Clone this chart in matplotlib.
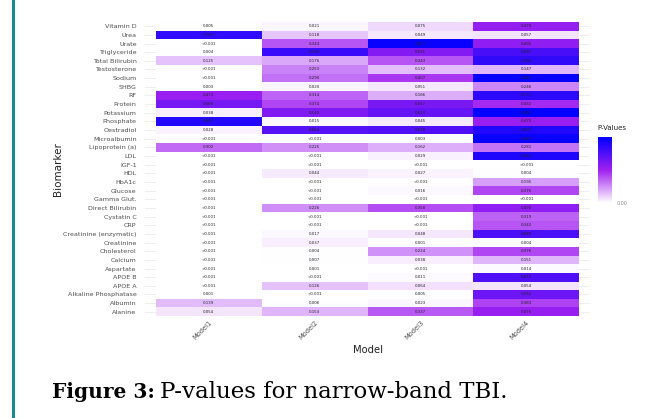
import numpy as np
import matplotlib.pyplot as plt
from matplotlib.colors import LinearSegmentedColormap, Normalize
from matplotlib.colorbar import ColorbarBase

biomarkers = ['Vitamin D', 'Urea', 'Urate', 'Triglyceride', 'Total Bilirubin',
              'Testosterone', 'Sodium', 'SHBG', 'RF', 'Protein', 'Potassium',
              'Phosphate', 'Oestradiol', 'Microalbumin', 'Lipoprotein (a)', 'LDL',
              'IGF-1', 'HDL', 'HbA1c', 'Glucose', 'Gamma Glut.', 'Direct Bilirubin',
              'Cystatin C', 'CRP', 'Creatinine (enzymatic)', 'Creatinine',
              'Cholesterol', 'Calcium', 'Aspartate', 'APOE B', 'APOE A',
              'Alkaline Phosphatase', 'Albumin', 'Alanine']
models = ['Model1', 'Model2', 'Model3', 'Model4']

model1 = ['0.005', '0.763', '<0.001', '0.004', '0.125', '<0.001', '<0.001', '0.003',
          '0.473', '0.568', '0.038', '0.801', '0.028', '<0.001', '0.302', '<0.001',
          '<0.001', '<0.001', '<0.001', '<0.001', '<0.001', '<0.001', '<0.001',
          '<0.001', '<0.001', '<0.001', '<0.001', '<0.001', '<0.001', '<0.001',
          '<0.001', '0.001', '0.139', '0.054']
model2 = ['0.021', '0.118', '0.343', '0.740', '0.176', '0.253', '0.290', '0.020',
          '0.314', '0.374', '0.540', '0.015', '0.654', '<0.001', '0.225', '<0.001',
          '<0.001', '0.044', '<0.001', '<0.001', '<0.001', '0.226', '<0.001',
          '<0.001', '0.017', '0.037', '0.004', '0.007', '0.001', '<0.001',
          '0.126', '<0.001', '0.006', '0.153']
model3 = ['0.075', '0.049', '0.877', '0.531', '0.343', '0.132', '0.407', '0.051',
          '0.166', '0.557', '0.613', '0.045', '0.678', '0.003', '0.162', '0.029',
          '<0.001', '0.027', '<0.001', '0.016', '<0.001', '0.358', '<0.001',
          '<0.001', '0.048', '0.001', '0.224', '0.038', '<0.001', '0.011',
          '0.064', '0.005', '0.023', '0.337']
model4 = ['0.479', '0.057', '0.495', '0.697', '0.760', '0.147', '0.882', '0.246',
          '0.771', '0.432', '0.892', '0.470', '0.807', '0.878', '0.281', '0.814',
          '<0.001', '0.004', '0.195', '0.376', '<0.001', '0.493', '0.319',
          '0.342', '0.689', '0.004', '0.376', '0.151', '0.014', '0.675',
          '0.054', '0.592', '0.383', '0.476']

labels = np.array([model1, model2, model3, model4]).T
values = np.vectorize(lambda s: 0.0 if s.startswith('<') else float(s))(labels)

cmap = LinearSegmentedColormap.from_list('pv', ['#ffffff', '#a020f0', '#0000ff'])
norm = Normalize(vmin=0, vmax=0.9)

fig = plt.figure(figsize=(6.69, 4.18), dpi=100)
W, H = 669, 418

# page frame: teal bar on the left
fig.add_artist(plt.Line2D([13 / W, 13 / W], [0, 1], color='#1a8a8a', lw=2.2))

nrow = len(biomarkers)
ax = fig.add_axes([145 / W, (H - 317) / H, 445 / W, 296 / H])
ax.set_xlim(-0.6, 3.6)
ax.set_ylim(nrow - 0.4, -0.6)
for i in range(nrow):
    ax.axhline(i, color='#ebebeb', lw=0.6, zorder=0)
ax.pcolormesh(np.arange(5) - 0.5, np.arange(nrow + 1) - 0.5, values,
              cmap=cmap, norm=norm, zorder=1)
for i in range(nrow):
    for j in range(4):
        ax.text(j, i, labels[i, j], ha='center', va='center', fontsize=2.8,
                color='#222222', zorder=2)

for s in ax.spines.values():
    s.set_visible(False)
ax.set_yticks(range(nrow))
ax.set_yticklabels(biomarkers, fontsize=4.6, color='#4d4d4d')
ax.set_xticks(range(4))
ax.set_xticklabels(models, fontsize=4.8, color='#4d4d4d', rotation=45,
                   ha='right', rotation_mode='anchor')
ax.tick_params(axis='both', length=0, pad=2)
ax.tick_params(axis='y', pad=6)
ax.set_ylabel('Biomarker', fontsize=7.5, color='#222222', labelpad=0)
ax.set_xlabel('Model', fontsize=7.2, color='#222222', labelpad=3)

# colour bar
cax = fig.add_axes([598 / W, (H - 203) / H, 14 / W, 66 / H])
cb = ColorbarBase(cax, cmap=cmap, norm=norm, orientation='vertical')
cb.outline.set_visible(False)
cb.set_ticks([0])
cb.set_ticklabels(['0.00'])
cax.tick_params(labelsize=3.5, length=0, colors='#888888', pad=3)
fig.text(597 / W, (H - 131) / H, 'P-Values', fontsize=5, color='#222222',
         ha='left', va='bottom')

# caption
fig.text(52 / W, (H - 398) / H, 'Figure 3:', fontsize=14.5, fontweight='bold',
         family='DejaVu Serif', ha='left', va='baseline')
fig.text(160 / W, (H - 398) / H, 'P-values for narrow-band TBI.', fontsize=16.5,
         family='DejaVu Serif', ha='left', va='baseline')

fig.savefig('out.png', dpi=100)
